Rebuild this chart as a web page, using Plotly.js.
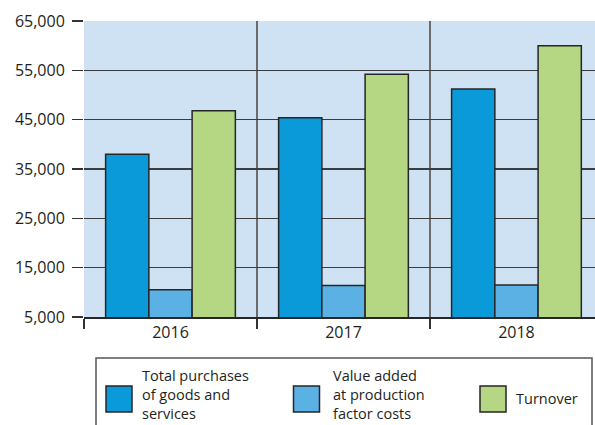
<!DOCTYPE html>
<html>
<head>
<meta charset="utf-8">
<script src="https://cdn.plot.ly/plotly-3.0.1.min.js"></script>
<style>
  html, body { margin: 0; padding: 0; background: #ffffff; }
  #chart { width: 595px; height: 425px; }
</style>
</head>
<body>
<div id="chart"></div>
<script>
// 数据
const years = ['2016', '2017', '2018'];
const purchases = [38000, 45400, 51200];
const valueAdded = [10500, 11400, 11500];
const turnover = [46800, 54200, 60000];

const seriesNames = [
    'Total purchases of goods and services',
    'Value added at production factor costs',
    'Turnover'
];
// 图例中的分行文字
const legendLabels = [
    'Total purchases<br>of goods and<br>services',
    'Value added<br>at production<br>factor costs',
    'Turnover'
];
const yTicks = [5000, 15000, 25000, 35000, 45000, 55000, 65000];
const yTickText = ['5,000', '15,000', '25,000', '35,000', '45,000', '55,000', '65,000'];

const colors = ['#0a99d9', '#5cb1e4', '#b5d682'];
const FONT = '"Open Sans", "Noto Sans", sans-serif';
const TEXT = '#231f20';

const seriesValues = [purchases, valueAdded, turnover];

const data = seriesValues.map((vals, i) => ({
    type: 'bar',
    x: years,
    y: vals,
    name: seriesNames[i],
    marker: { color: colors[i], line: { color: '#262626', width: 1.5 } },
    hoverinfo: 'x+y'
}));

// 手工图例（大方块 + 多行文字）
const H = 296;                 // 绘图区高度
const W = 511;                 // 绘图区宽度
const px = v => (v - 84) / W;  // 像素 -> paper x
const py = v => (317 - v) / H; // 像素 -> paper y

const shapes = [{
    type: 'rect', xref: 'paper', yref: 'paper',
    x0: px(96), x1: px(592), y0: py(440), y1: py(358),
    line: { color: '#555555', width: 1.5 }, fillcolor: 'rgba(0,0,0,0)'
}];
const annotations = [];
const boxX = [106, 293.5, 480];
const textX = [140, 330.5, 514];
legendLabels.forEach((label, i) => {
    shapes.push({
        type: 'rect', xref: 'paper', yref: 'paper',
        x0: px(boxX[i]), x1: px(boxX[i] + 26), y0: py(412), y1: py(386),
        fillcolor: colors[i], line: { color: '#262626', width: 1.5 }
    });
    annotations.push({
        xref: 'paper', yref: 'paper',
        x: px(textX[i]), y: py(i === 2 ? 398 : 394),
        xanchor: 'left', yanchor: 'middle', align: 'left',
        text: label, showarrow: false,
        font: { family: FONT, size: 14.5, color: TEXT }
    });
});

const layout = {
    width: 595,
    height: 425,
    margin: { l: 84, r: 0, t: 21, b: 108, pad: 0 },
    paper_bgcolor: '#ffffff',
    plot_bgcolor: '#cfe2f3',
    barmode: 'group',
    bargap: 0.25,
    bargroupgap: 0,
    showlegend: false,
    font: { family: FONT, size: 16, color: TEXT },
    xaxis: {
        type: 'category',
        range: [-0.5, 2.454],
        tickson: 'boundaries',
        ticks: 'outside',
        ticklen: 10,
        tickwidth: 1.5,
        tickcolor: '#333333',
        showgrid: true,
        gridcolor: '#6b6b6b',
        gridwidth: 2,
        showline: true,
        linecolor: '#262626',
        linewidth: 1.5,
        tickfont: { family: FONT, size: 16, color: TEXT },
        fixedrange: true
    },
    yaxis: {
        range: [5000, 65000],
        tickvals: yTicks,
        ticktext: yTickText,
        ticks: 'outside',
        ticklen: 11,
        tickwidth: 1.5,
        tickcolor: '#333333',
        ticklabelstandoff: 4,
        showgrid: true,
        gridcolor: '#3c3c3c',
        gridwidth: 1.5,
        zeroline: false,
        showline: false,
        tickfont: { family: FONT, size: 16, color: TEXT },
        fixedrange: true
    },
    shapes: shapes,
    annotations: annotations
};

Plotly.newPlot('chart', data, layout, { displayModeBar: false, staticPlot: true });
</script>
</body>
</html>
